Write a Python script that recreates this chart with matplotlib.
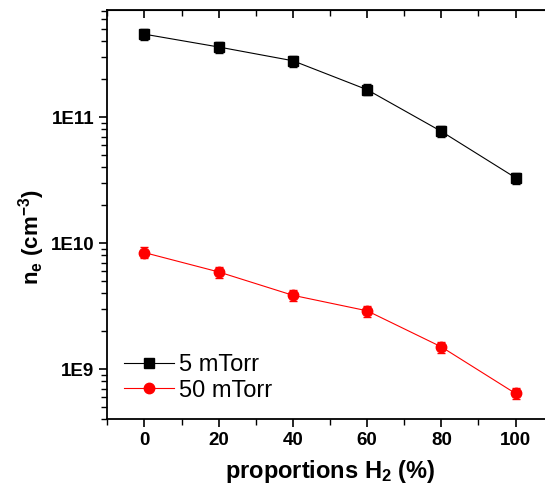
import numpy as np
import matplotlib
matplotlib.use("Agg")
from matplotlib import pyplot as plt
from matplotlib.ticker import LogLocator, MultipleLocator, NullFormatter, FixedFormatter, FixedLocator

# data
h2_pct = [0, 20, 40, 60, 80, 100]
ne_5mtorr = [4.55e11, 3.6e11, 2.8e11, 1.65e11, 7.7e10, 3.3e10]
ne_50mtorr = [8.4e9, 5.9e9, 3.85e9, 2.9e9, 1.5e9, 6.4e8]
err_frac = 0.10
ytick_vals = [1e9, 1e10, 1e11]
ytick_labels = ["1E9", "1E10", "1E11"]

plt.rcParams['font.family'] = ['Liberation Sans', 'DejaVu Sans']
plt.rcParams['mathtext.fontset'] = 'custom'
plt.rcParams['mathtext.rm'] = 'Liberation Sans:bold'
plt.rcParams['mathtext.bf'] = 'Liberation Sans:bold'
plt.rcParams['mathtext.it'] = 'Liberation Sans:bold'
plt.rcParams['mathtext.default'] = 'bf'

fig = plt.figure(figsize=(5.45, 4.92), dpi=100)
ax = fig.add_axes([0.197, 0.148, 0.817, 0.832])

y1 = np.array(ne_5mtorr)
y2 = np.array(ne_50mtorr)
c1 = ax.errorbar(h2_pct, y1, yerr=y1 * err_frac, color='black', marker='s', ms=6.5,
                 lw=0.8, elinewidth=1.0, capsize=3, capthick=1.0, label='5 mTorr')
c2 = ax.errorbar(h2_pct, y2, yerr=y2 * err_frac, color='red', marker='o', ms=7.5,
                 lw=0.8, elinewidth=1.0, capsize=3, capthick=1.0, label='50 mTorr')

ax.set_yscale('log')
ax.set_xlim(-10, 110)
ax.set_ylim(4.0e8, 7.1e11)
ax.xaxis.set_major_locator(MultipleLocator(20))
ax.xaxis.set_minor_locator(MultipleLocator(10))
ax.yaxis.set_major_locator(FixedLocator(ytick_vals))
ax.yaxis.set_major_formatter(FixedFormatter(ytick_labels))
ax.yaxis.set_minor_locator(LogLocator(base=10, subs=np.arange(2, 10)))
ax.yaxis.set_minor_formatter(NullFormatter())

ax.tick_params(which='major', direction='out', length=6, width=1.2, labelsize=13.5)
ax.tick_params(which='minor', direction='out', length=4, width=1.0)
for lab in ax.get_xticklabels() + ax.get_yticklabels():
    lab.set_fontweight('bold')
for sp in ax.spines.values():
    sp.set_linewidth(1.3)

# mirrored ticks pointing inward on top and right
top = ax.secondary_xaxis('top')
top.xaxis.set_major_locator(MultipleLocator(20))
top.xaxis.set_minor_locator(MultipleLocator(10))
top.tick_params(which='major', direction='in', length=6, width=1.2, labeltop=False)
top.tick_params(which='minor', direction='in', length=4, width=1.0)
right = ax.secondary_yaxis('right')
right.yaxis.set_major_locator(FixedLocator(ytick_vals))
right.yaxis.set_minor_locator(LogLocator(base=10, subs=np.arange(2, 10)))
right.tick_params(which='major', direction='in', length=6, width=1.2, labelright=False)
right.tick_params(which='minor', direction='in', length=4, width=1.0, labelright=False)

ax.set_xlabel('proportions H$_2$ (%)', fontsize=17, fontweight='bold', labelpad=6)
ax.set_ylabel('n$_e$ (cm$^{-3}$)', fontsize=16, fontweight='bold')
ax.yaxis.set_label_coords(-0.135, 0.445)

fig.legend([c1[0], c2[0]], ['5 mTorr', '50 mTorr'], loc='upper left',
           bbox_to_anchor=(124 / 545, 1 - 354 / 492), frameon=False, fontsize=17,
           handlelength=2.1, handletextpad=0.25, borderpad=0, borderaxespad=0,
           labelspacing=0.15)

fig.savefig('out.png', dpi=100)
